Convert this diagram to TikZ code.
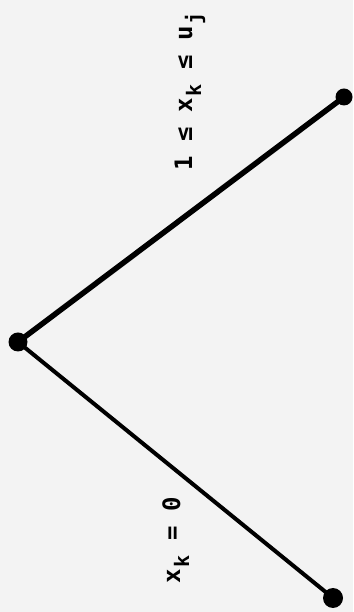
\documentclass[tikz,border=0pt]{standalone}
\usepackage{fontspec}
\setmonofont{DejaVu Sans Mono}
\definecolor{paper}{RGB}{243,243,243}
\newcommand{\subch}[1]{\makebox[14.4pt]{\raisebox{-9pt}{\fontsize{20}{20}\selectfont #1}}}
\begin{document}
\begin{tikzpicture}[x=1pt,y=1pt,
  vdot/.style={circle,fill=black,inner sep=0pt,minimum size=#1},
  lbl/.style={font=\ttfamily\bfseries\fontsize{24}{26}\selectfont,inner sep=0pt,rotate=90,anchor=base},
  arm/.style={line width=#1,line cap=round}]
\fill[paper] (0,0) rectangle (353,612);
\useasboundingbox (0,0) rectangle (353,612);
\node[vdot=19pt] (L) at (18,270) {};
\node[vdot=17pt] (T) at (344,515) {};
\node[vdot=20pt] (B) at (333,14) {};
\draw[arm=5.5pt] (L.center) -- (T.center);
\draw[arm=4pt] (L.center) -- (B.center);
\node[lbl] (up) at (192,521) {1 ≤ x\subch{k} ≤ u\subch{j}};
\node[lbl] (dn) at (180,72) {x\subch{k} = 0};
\end{tikzpicture}
\end{document}
